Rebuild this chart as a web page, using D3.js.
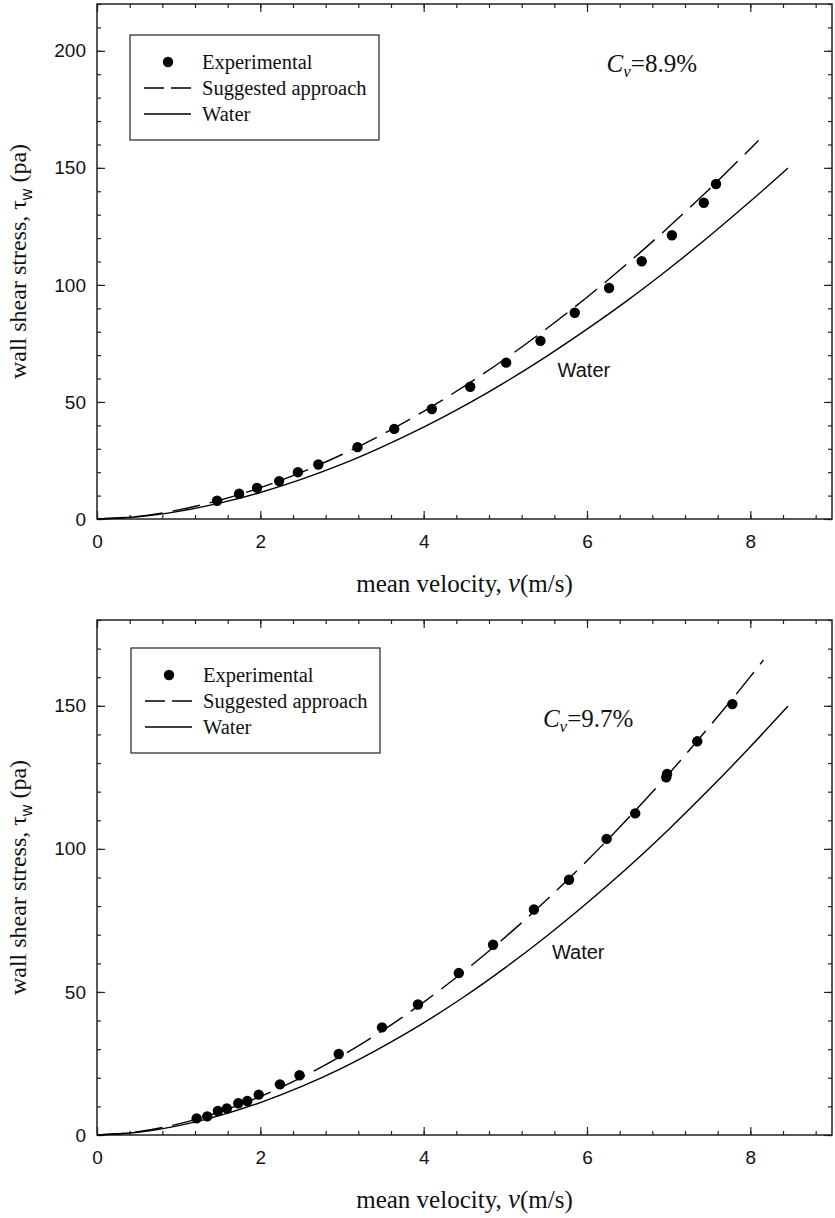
<!DOCTYPE html>
<html>
<head>
<meta charset="utf-8">
<script src="https://cdn.jsdelivr.net/npm/d3@7"></script>
<style>
  body { margin: 0; background: #fff; }
  .tick text { font-family: "Liberation Sans", Arial, sans-serif; font-size: 19px; fill: #111; }
  .tick line { stroke: #222; stroke-width: 1.2; }
  .serif { font-family: "Liberation Serif", "Times New Roman", serif; fill: #111; }
</style>
</head>
<body>
<div id="chart"></div>
<script>
// ---- data ----
var xTicks = [0, 2, 4, 6, 8];
var topYTicks = [0, 50, 100, 150, 200];
var bottomYTicks = [0, 50, 100, 150];

// water curve is the same in both panels
var waterCurve = [[0, 0], [0.5, 0.95], [1, 3.28], [1.5, 6.78], [2, 11.34], [2.5, 16.9], [3, 23.4],
    [3.5, 30.9], [4, 39.2], [4.5, 48.4], [5, 58.5], [5.5, 69.4], [6, 81.1], [6.5, 93.5],
    [7, 106.8], [7.5, 120.9], [8, 135.7], [8.46, 149.9]];

var topSuggested = [[0, 0], [0.5, 1.13], [1, 3.89], [1.5, 8.01], [2, 13.38], [2.5, 19.91], [3, 27.55],
    [3.5, 36.27], [4, 46.02], [4.5, 56.76], [5, 68.47], [5.5, 81.15], [6, 94.76], [6.5, 109.3],
    [7, 124.7], [7.5, 141.0], [8, 158.2], [8.1, 161.7]];

var topExperimental = [[1.47, 7.8], [1.74, 10.8], [1.96, 13.3], [2.23, 16.2], [2.46, 20.0], [2.71, 23.3],
    [3.19, 30.7], [3.64, 38.5], [4.10, 47.0], [4.57, 56.5], [5.01, 66.8], [5.43, 76.1], [5.85, 88.1],
    [6.27, 98.7], [6.67, 110.1], [7.04, 121.2], [7.43, 135.1], [7.58, 143.1]];

var bottomSuggested = [[0, 0], [0.5, 1.13], [1, 3.90], [1.5, 8.05], [2, 13.46], [2.5, 20.05], [3, 27.77],
    [3.5, 36.58], [4, 46.44], [4.5, 57.31], [5, 69.17], [5.5, 82.03], [6, 95.84], [6.5, 110.6],
    [7, 126.2], [7.5, 142.8], [8, 160.2], [8.16, 166.0]];

var bottomExperimental = [[1.22, 5.8], [1.35, 6.5], [1.48, 8.4], [1.59, 9.3], [1.73, 11.1], [1.84, 11.9],
    [1.98, 14.1], [2.24, 17.7], [2.48, 20.9], [2.96, 28.3], [3.49, 37.6], [3.93, 45.6], [4.43, 56.6],
    [4.85, 66.5], [5.35, 78.8], [5.78, 89.2], [6.24, 103.5], [6.59, 112.4], [6.97, 125.0], [6.98, 126.2],
    [7.35, 137.6], [7.78, 150.6]];

var legendLabels = ['Experimental', 'Suggested approach', 'Water'];

var width = 835, height = 1218;
var plotW = 735, plotH = 515;

var svg = d3.select('#chart')
    .append('svg')
    .attr('width', width)
    .attr('height', height);

function drawPanel(p) {
    var g = svg.append('g')
        .attr('transform', 'translate(97,' + p.top + ')');

    var x = d3.scaleLinear().domain([0, 9]).range([0, plotW]);
    var y = d3.scaleLinear().domain([0, p.yMax]).range([plotH, 0]);

    // minor ticks on all four sides
    var xMinor = d3.range(0, 9.01, 0.4);
    var yMinor = d3.range(0, p.yMax + 0.1, 10);
    g.append('g').attr('transform', 'translate(0,' + plotH + ')')
        .call(d3.axisBottom(x).tickValues(xMinor).tickSize(-4).tickFormat(''));
    g.append('g')
        .call(d3.axisTop(x).tickValues(xMinor).tickSize(-4).tickFormat(''));
    g.append('g')
        .call(d3.axisLeft(y).tickValues(yMinor).tickSize(-4).tickFormat(''));
    g.append('g').attr('transform', 'translate(' + plotW + ',0)')
        .call(d3.axisRight(y).tickValues(yMinor).tickSize(-4).tickFormat(''));

    // major ticks
    g.append('g').attr('transform', 'translate(0,' + plotH + ')')
        .call(d3.axisBottom(x).tickValues(xTicks).tickSize(-8).tickPadding(16));
    g.append('g')
        .call(d3.axisTop(x).tickValues(xTicks).tickSize(-8).tickFormat(''));
    g.append('g')
        .call(d3.axisLeft(y).tickValues(p.yTicks).tickSize(-8).tickPadding(11));
    g.append('g').attr('transform', 'translate(' + plotW + ',0)')
        .call(d3.axisRight(y).tickValues(p.yTicks).tickSize(-8).tickFormat(''));

    g.selectAll('.domain').remove();

    g.append('rect')
        .attr('width', plotW)
        .attr('height', plotH)
        .style('fill', 'none')
        .style('stroke', '#222')
        .style('stroke-width', 1.5);

    var line = d3.line()
        .x(function(d) { return x(d[0]); })
        .y(function(d) { return y(d[1]); })
        .curve(d3.curveMonotoneX);

    g.append('path')
        .datum(waterCurve)
        .attr('d', line)
        .style('fill', 'none')
        .style('stroke', '#000')
        .style('stroke-width', 1.4);

    g.append('path')
        .datum(p.suggested)
        .attr('d', line)
        .style('fill', 'none')
        .style('stroke', '#000')
        .style('stroke-width', 1.4)
        .style('stroke-dasharray', '28,10');

    g.selectAll('circle.exp')
        .data(p.experimental)
        .enter()
        .append('circle')
        .attr('class', 'exp')
        .attr('cx', function(d) { return x(d[0]); })
        .attr('cy', function(d) { return y(d[1]); })
        .attr('r', 5.2)
        .style('fill', '#000');

    // "Water" label by the curve
    g.append('text')
        .attr('x', x(p.waterLabel[0]))
        .attr('y', y(p.waterLabel[1]))
        .style('font-family', '"Liberation Sans", Arial, sans-serif')
        .style('font-size', '20px')
        .style('fill', '#111')
        .text('Water');

    // C_v annotation
    var cv = g.append('text')
        .attr('class', 'serif')
        .attr('x', x(p.cvPos[0]))
        .attr('y', y(p.cvPos[1]))
        .style('font-size', '25px');
    cv.append('tspan').style('font-style', 'italic').text('C');
    cv.append('tspan').style('font-style', 'italic').style('font-size', '17px').attr('dy', 5).text('ν');
    cv.append('tspan').attr('dy', -5).text('=' + p.cv);

    // legend
    var lg = g.append('g').attr('transform', 'translate(' + p.legend[0] + ',' + p.legend[1] + ')');
    lg.append('rect')
        .attr('width', 249)
        .attr('height', 105)
        .style('fill', '#fff')
        .style('stroke', '#222')
        .style('stroke-width', 1.2);
    lg.append('circle').attr('cx', 38).attr('cy', 27).attr('r', 5.2).style('fill', '#000');
    lg.append('line').attr('x1', 14).attr('x2', 61).attr('y1', 53).attr('y2', 53)
        .style('stroke', '#000').style('stroke-width', 1.4).style('stroke-dasharray', '20,7');
    lg.append('line').attr('x1', 14).attr('x2', 61).attr('y1', 79).attr('y2', 79)
        .style('stroke', '#000').style('stroke-width', 1.4);
    lg.selectAll('text.lab')
        .data(legendLabels)
        .enter()
        .append('text')
        .attr('class', 'lab serif')
        .attr('x', 72)
        .attr('y', function(d, i) { return 27 + i * 26 + 7; })
        .style('font-size', '20.5px')
        .text(function(d) { return d; });

    // axis titles
    var xt = g.append('text')
        .attr('class', 'serif')
        .attr('x', plotW / 2)
        .attr('y', plotH + 73)
        .attr('text-anchor', 'middle')
        .style('font-size', '25px');
    xt.append('tspan').text('mean velocity,  ');
    xt.append('tspan').style('font-style', 'italic').style('font-size', '27px').text('ν');
    xt.append('tspan').text('(m/s)');

    var yt = g.append('text')
        .attr('class', 'serif')
        .attr('transform', 'translate(-71,' + (plotH / 2) + ')rotate(-90)')
        .attr('text-anchor', 'middle')
        .style('font-size', '24px');
    yt.append('tspan').text('wall shear stress, τ');
    yt.append('tspan').attr('dy', 6).style('font-size', '16px')
        .style('font-family', '"Liberation Sans", Arial, sans-serif').text('w');
    yt.append('tspan').attr('dy', -6).text(' (pa)');
}

drawPanel({
    top: 4, yMax: 220, yTicks: topYTicks,
    suggested: topSuggested, experimental: topExperimental,
    waterLabel: [5.64, 60.7], cvPos: [6.24, 191], cv: '8.9%',
    legend: [33, 31]
});

drawPanel({
    top: 620, yMax: 180, yTicks: bottomYTicks,
    suggested: bottomSuggested, experimental: bottomExperimental,
    waterLabel: [5.57, 61.4], cvPos: [5.46, 142.7], cv: '9.7%',
    legend: [34, 28]
});
</script>
</body>
</html>
